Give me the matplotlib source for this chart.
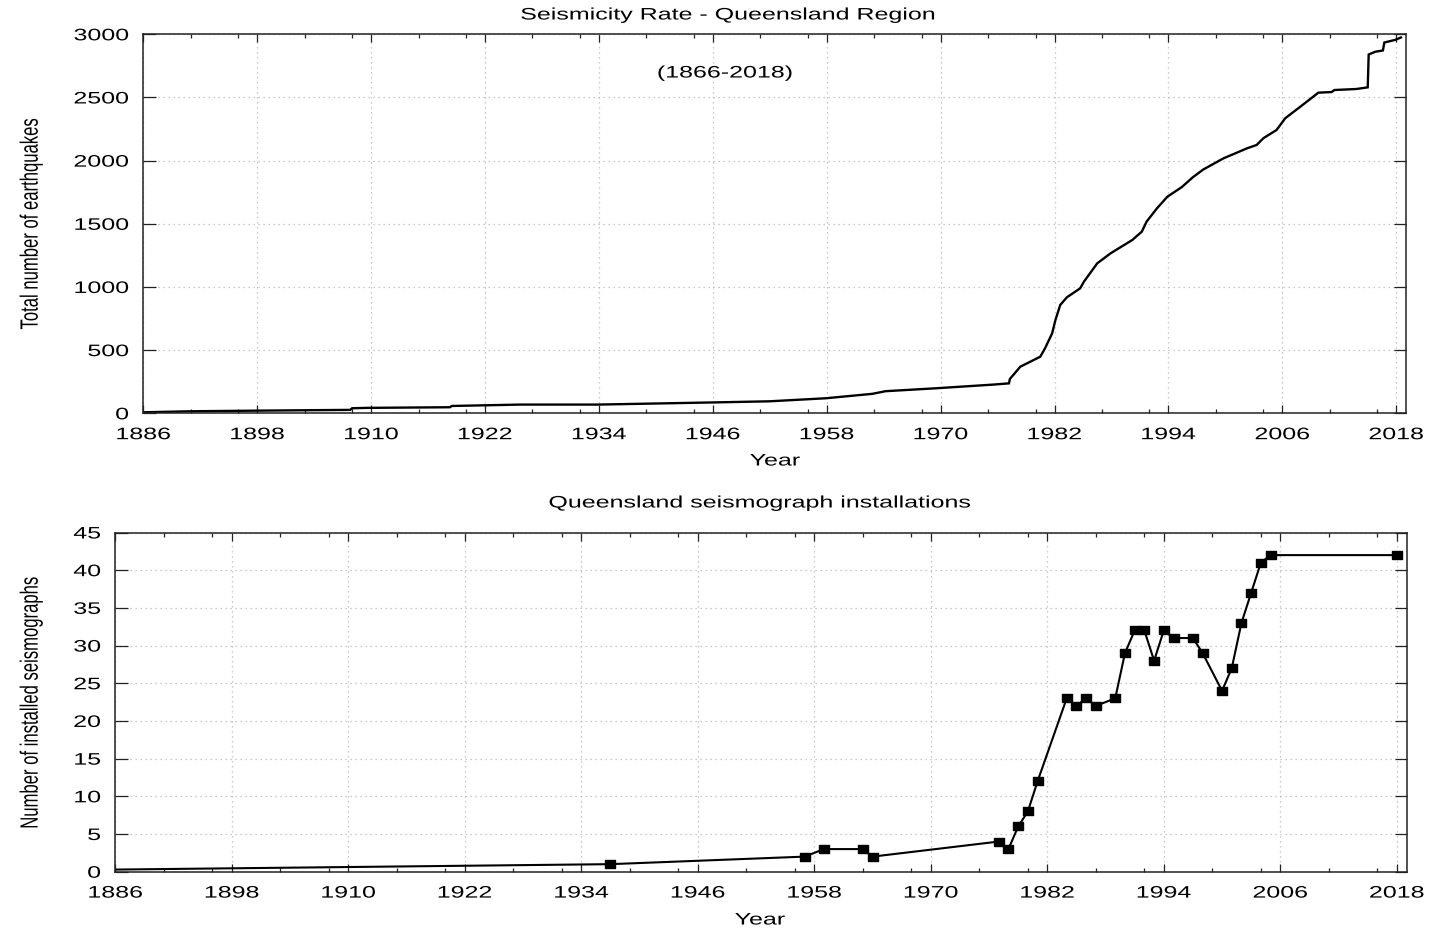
import matplotlib
matplotlib.use('Agg')
import matplotlib.pyplot as plt
from matplotlib.patheffects import AbstractPathEffect
from matplotlib.transforms import Affine2D
from matplotlib.ticker import FixedLocator

# ---------------- data ----------------
eq_years = [1886, 1891, 1898, 1907.8, 1908.0, 1909.6, 1918.3, 1918.5, 1925.7,
            1933.9, 1946.7, 1952, 1957.9, 1962.8, 1964.2, 1969.5, 1975.5,
            1977.2, 1977.3, 1978.4, 1980.5, 1981.0, 1981.75, 1982.1, 1982.6,
            1983.3, 1984.7, 1985.1, 1986.5, 1987.9, 1990.2, 1991.2, 1991.7,
            1992.8, 1993.9, 1995.4, 1996.6, 1997.7, 1999.8, 2002.3, 2003.3,
            2004.0, 2005.4, 2006.3, 2007.9, 2009.8, 2011.2, 2011.5, 2013.8,
            2015.0, 2015.1, 2015.8, 2016.6, 2016.75, 2017.9, 2018.5]
eq_counts = [8, 16, 21, 27, 40, 43, 48, 58, 69,
             69, 87, 95, 119, 154, 175, 198, 227,
             237, 272, 369, 448, 514, 633, 739, 857,
             918, 989, 1042, 1187, 1266, 1372, 1438, 1517,
             1623, 1715, 1790, 1870, 1931, 2018, 2098, 2124,
             2177, 2243, 2335, 2427, 2538, 2543, 2559, 2567,
             2580, 2840, 2862, 2872, 2935, 2956, 2975]

inst_years = [1866, 1937, 1957, 1959, 1963, 1964, 1977, 1978, 1979, 1980, 1981,
              1984, 1985, 1986, 1987, 1989, 1990, 1991, 1992, 1993, 1994, 1995,
              1997, 1998, 2000, 2001, 2002, 2003, 2004, 2005, 2018]
inst_counts = [0, 1, 2, 3, 3, 2, 4, 3, 6, 8, 12,
               23, 22, 23, 22, 23, 29, 32, 32, 28, 32, 31,
               31, 29, 24, 27, 33, 37, 41, 42, 42]

year_ticks = list(range(1886, 2019, 12))
minor_ticks = [y + d for y in year_ticks[:-1] for d in (5, 10)]
eq_yticks = [0, 500, 1000, 1500, 2000, 2500, 3000]
inst_yticks = [0, 5, 10, 15, 20, 25, 30, 35, 40, 45]

title_top = 'Seismicity Rate - Queensland Region'
title_bot = 'Queensland seismograph installations'
period_label = '(1866-2018)'
ylab_top = 'Total number of earthquakes'
ylab_bot = 'Number of installed seismographs'
xlab = 'Year'

# ---------------- style ----------------
W, H = 1445, 930
plt.rcParams['font.family'] = ['Liberation Sans', 'DejaVu Sans']
plt.rcParams['font.size'] = 12
SX = 1.5


class Stretch(AbstractPathEffect):
    """Stretch glyph paths (text stays real text)."""
    def __init__(self, sx=1.0, sy=1.0, anchor='center'):
        super().__init__()
        self.sx, self.sy, self.anchor = sx, sy, anchor

    def draw_path(self, renderer, gc, tpath, affine, rgbFace=None):
        ext = tpath.get_extents()
        if self.anchor == 'right':
            cx = ext.x1
        elif self.anchor == 'left':
            cx = ext.x0
        else:
            cx = 0.5 * (ext.x0 + ext.x1)
        cy = 0.5 * (ext.y0 + ext.y1)
        t = Affine2D().translate(-cx, -cy).scale(self.sx, self.sy).translate(cx, cy)
        renderer.draw_path(gc, tpath, t + affine, rgbFace)


fig = plt.figure(figsize=(W / 100, H / 100), dpi=100)
ax1 = fig.add_axes([143.3 / W, 1 - 413.3 / H, (1405.7 - 143.3) / W, (413.3 - 34.3) / H])
ax2 = fig.add_axes([115.3 / W, 1 - 871.7 / H, (1406.5 - 115.3) / W, (871.7 - 532.5) / H])

grid_kw = dict(color='#b8b8b8', linestyle=(0, (1, 3)), linewidth=0.9)

for ax, yt in ((ax1, eq_yticks), (ax2, inst_yticks)):
    ax.set_xlim(1886, 2019)
    ax.set_ylim(yt[0], yt[-1])
    ax.xaxis.set_major_locator(FixedLocator(year_ticks))
    ax.xaxis.set_minor_locator(FixedLocator(minor_ticks))
    ax.yaxis.set_major_locator(FixedLocator(yt))
    ax.set_xticklabels([str(y) for y in year_ticks])
    ax.set_yticklabels([str(v) for v in yt])
    ax.tick_params(axis='both', which='both', direction='in', top=True, right=True,
                   width=0.9, colors='#222222', labelcolor='black')
    ax.tick_params(axis='x', which='major', length=6, pad=10)
    ax.tick_params(axis='x', which='minor', length=2.9)
    ax.tick_params(axis='y', which='major', length=9, pad=10.5)
    ax.grid(True, which='major', **grid_kw)
    for s in ax.spines.values():
        s.set_linewidth(1.1)
        s.set_color('#222222')

ax1.plot(eq_years, eq_counts, color='black', linewidth=1.7, solid_joinstyle='miter')

rect_marker = [(-1.25, -1), (1.25, -1), (1.25, 1), (-1.25, 1), (-1.25, -1)]
ax2.plot(inst_years, inst_counts, color='black', linewidth=1.5,
         marker=rect_marker, markersize=7.5, markerfacecolor='black',
         markeredgecolor='black')

ax1.set_title(title_top, fontsize=12, x=(728 - 143.3) / 1262.4, y=(413.3 - 15) / 379,
              va='center', pad=0)
ax2.set_title(title_bot, fontsize=12, x=(760 - 115.3) / 1291.2, y=(871.7 - 503) / 339.2,
              va='center', pad=0)
ax1.text((725 - 143.3) / 1262.4, (413.3 - 73) / 379, period_label,
         transform=ax1.transAxes, ha='center', va='center',
         path_effects=[Stretch(sx=SX)])

ax1.set_xlabel(xlab, va='center')
ax1.xaxis.set_label_coords((775 - 143.3) / 1262.4, (413.3 - 461) / 379)
ax2.set_xlabel(xlab, va='center')
ax2.xaxis.set_label_coords((760 - 115.3) / 1291.2, (871.7 - 920) / 339.2)

ax1.set_ylabel(ylab_top, va='center')
ax1.yaxis.set_label_coords(31 / W, 1 - 223.5 / H, transform=fig.transFigure)
ax2.set_ylabel(ylab_bot, va='center')
ax2.yaxis.set_label_coords(31 / W, 1 - 702.5 / H, transform=fig.transFigure)

fig.canvas.draw()
for ax in (ax1, ax2):
    for t in ax.get_xticklabels():
        t.set_path_effects([Stretch(sx=SX)])
    for t in ax.get_yticklabels():
        t.set_path_effects([Stretch(sx=SX, anchor='right')])
    ax.title.set_path_effects([Stretch(sx=SX)])
    ax.xaxis.label.set_path_effects([Stretch(sx=SX)])
    ax.yaxis.label.set_path_effects([Stretch(sy=SX)])

fig.savefig('out.png', dpi=100)
